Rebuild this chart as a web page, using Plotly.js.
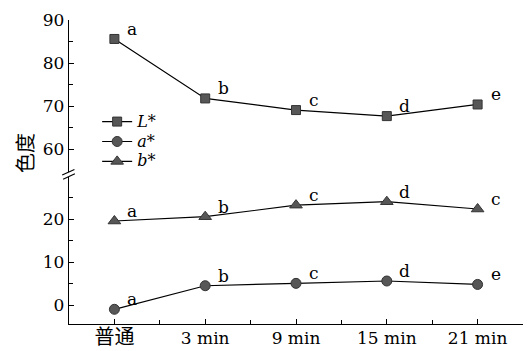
<!DOCTYPE html>
<html>
<head>
<meta charset="utf-8">
<script src="https://cdn.plot.ly/plotly-3.0.1.min.js"></script>
<style>html,body{margin:0;padding:0;background:#fff;}#chart{width:529px;height:351px;}</style>
</head>
<body>
<div id="chart"></div>
<script>
// ---- data ----
var categories = ['普通', '3 min', '9 min', '15 min', '21 min'];
var seriesL = [85.6, 71.8, 69.1, 67.7, 70.4];
var seriesA = [-1.0, 4.5, 5.05, 5.6, 4.8];
var seriesB = [19.6, 20.6, 23.3, 24.1, 22.4];
var lettersL = ['a', 'b', 'c', 'd', 'e'];
var lettersA = ['a', 'b', 'c', 'd', 'e'];
var lettersB = ['a', 'b', 'c', 'd', 'c'];
var upperTicks = [60, 70, 80, 90];
var lowerTicks = [0, 10, 20];

var xIdx = categories.map(function (c, i) { return i; });
var serif = 'DejaVu Serif, Noto Sans CJK SC';
var markerFill = '#575757';
var markerLine = '#333333';
var tickText = categories.map(function (c) {
  return /[\u4e00-\u9fff]/.test(c) ? '<span style="font-size:20px">' + c + '</span>' : c;
});

function trace(name, y, symbol, yaxis, size) {
  return {
    x: xIdx, y: y, name: name, yaxis: yaxis, type: 'scatter', mode: 'lines+markers',
    line: {color: '#000', width: 1.2},
    marker: {symbol: symbol, size: size, color: markerFill, line: {color: markerLine, width: 1}},
    cliponaxis: false
  };
}

var data = [
  trace('<span style="font-size:16px"><i>L</i>*</span>', seriesL, 'square', 'y2', 9),
  trace('<span style="font-size:16px"><i>a</i>*</span>', seriesA, 'circle', 'y', 10),
  trace('<span style="font-size:16px"><i>b</i>*</span>', seriesB, 'triangle-up', 'y', 11)
];

var annotations = [];
function addLetters(letters, y, yref) {
  letters.forEach(function (t, i) {
    annotations.push({x: xIdx[i], y: y[i], xref: 'x', yref: yref, text: t, showarrow: false,
      xshift: 18, yshift: 10, font: {family: serif, size: 17, color: '#000'}});
  });
}
addLetters(lettersL, seriesL, 'y2');
addLetters(lettersA, seriesA, 'y');
addLetters(lettersB, seriesB, 'y');

annotations.push({xref: 'paper', yref: 'paper', x: 0, y: 0.5625, xanchor: 'center', yanchor: 'middle',
  xshift: -45, text: '色度', textangle: -90, showarrow: false,
  font: {family: 'Noto Sans CJK SC', size: 20, color: '#000'}});

var layout = {
  width: 529, height: 351,
  margin: {l: 69, r: 6, t: 20, b: 27},
  paper_bgcolor: '#fff', plot_bgcolor: '#fff',
  font: {family: serif, color: '#000'},
  showlegend: true,
  legend: {x: 0.062, y: 0.715, xanchor: 'left', yanchor: 'top', bgcolor: 'rgba(0,0,0,0)',
    font: {family: serif, size: 13, color: '#000'}},
  xaxis: {
    range: [-0.5, 4.5], tickvals: xIdx, ticktext: tickText,
    showline: true, linecolor: '#000', linewidth: 1.2, showgrid: false, zeroline: false,
    ticks: 'inside', ticklen: 5, tickcolor: '#000', ticklabelstandoff: -2,
    minor: {ticks: 'inside', ticklen: 4, tick0: 0.5, dtick: 1, tickcolor: '#000', showgrid: false},
    tickfont: {family: serif, size: 17, color: '#000'}, anchor: 'y'
  },
  yaxis: {
    domain: [0, 0.4836], range: [-4.43, 29.87], tickvals: lowerTicks,
    showline: true, linecolor: '#000', linewidth: 1.2, showgrid: false, zeroline: false,
    ticks: 'inside', ticklen: 5, tickcolor: '#000',
    minor: {ticks: 'inside', ticklen: 4, tick0: 5, dtick: 10, tickcolor: '#000', showgrid: false},
    tickfont: {family: serif, size: 17, color: '#000'}
  },
  yaxis2: {
    domain: [0.501, 1], range: [54.8, 90], tickvals: upperTicks,
    showline: true, linecolor: '#000', linewidth: 1.2, showgrid: false, zeroline: false,
    ticks: 'inside', ticklen: 5, tickcolor: '#000',
    minor: {ticks: 'inside', ticklen: 4, tick0: 55, dtick: 10, tickcolor: '#000', showgrid: false},
    tickfont: {family: serif, size: 17, color: '#000'}, anchor: 'x'
  },
  annotations: annotations,
  shapes: [
    {type: 'line', xref: 'paper', yref: 'paper', x0: -0.015, x1: 0.012, y0: 0.49, y1: 0.508, line: {color: '#000', width: 1.2}},
    {type: 'line', xref: 'paper', yref: 'paper', x0: -0.013, x1: 0.013, y0: 0.476, y1: 0.494, line: {color: '#000', width: 1.2}}
  ]
};

Plotly.newPlot('chart', data, layout, {displayModeBar: false, staticPlot: true});
</script>
</body>
</html>
